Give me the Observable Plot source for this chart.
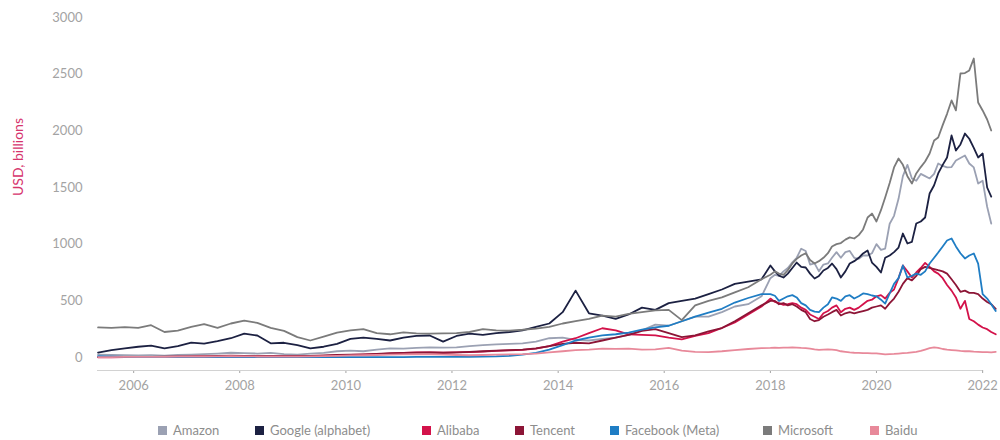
<!DOCTYPE html>
<html><head><meta charset="utf-8">
<script src="https://cdn.jsdelivr.net/npm/d3@7"></script>
<script src="https://cdn.jsdelivr.net/npm/@observablehq/plot@0.6"></script>
<style>
body{margin:0;background:#fff;font-family:Lato,"Open Sans",sans-serif;}
#wrap{position:relative;width:1000px;height:440px;overflow:hidden;background:#fff;}
#ylab{position:absolute;left:17px;top:157px;transform:translate(-50%,-50%) rotate(-90deg);color:#d6336c;font-size:14px;white-space:nowrap;}
.item{position:absolute;top:422px;height:16px;font-size:13px;color:#8d8d8d;display:flex;align-items:center;white-space:nowrap;}
.sw{width:9px;height:9px;margin-right:6px;flex:none;}
</style></head><body>
<div id="wrap"><div id="chart"></div><div id="ylab">USD, billions</div><div id="legend"></div></div>
<script>
// ---- data ----
const dates = [
"2005-05","2005-08","2005-11","2006-02","2006-05","2006-08","2006-11","2007-02","2007-05","2007-08","2007-11",
"2008-02","2008-05","2008-08","2008-11","2009-02","2009-05","2009-08","2009-11","2010-02","2010-05","2010-08","2010-11",
"2011-02","2011-05","2011-08","2011-11","2012-02","2012-05","2012-08","2012-11","2013-02","2013-05","2013-08","2013-11",
"2014-02","2014-05","2014-08","2014-11","2015-02","2015-05","2015-08","2015-11","2016-02","2016-05","2016-08","2016-11",
"2017-02","2017-05","2017-08","2017-11",
"2018-01","2018-02","2018-03","2018-04","2018-05","2018-06","2018-07","2018-08","2018-09","2018-10","2018-11","2018-12",
"2019-01","2019-02","2019-03","2019-04","2019-05","2019-06","2019-07","2019-08","2019-09","2019-10","2019-11","2019-12",
"2020-01","2020-02","2020-03","2020-04","2020-05","2020-06","2020-07","2020-08","2020-09","2020-10","2020-11","2020-12",
"2021-01","2021-02","2021-03","2021-04","2021-05","2021-06","2021-07","2021-08","2021-09","2021-10","2021-11","2021-12",
"2022-01","2022-02","2022-03","2022-04"];

const amazon = [25,22,20,18,20,17,22,25,30,35,42,38,35,40,30,25,35,40,55,60,55,70,80,78,85,90,88,90,100,110,115,120,125,140,170,176,155,150,165,175,200,240,290,280,320,360,360,400,450,470,540,
700,730,720,760,790,840,880,960,940,820,830,760,820,830,880,930,880,930,940,880,870,900,900,920,1000,950,960,1180,1250,1400,1600,1700,1580,1560,1620,1600,1580,1620,1712,1690,1677,1680,1738,1760,1782,1712,1677,1535,1560,1330,1182,null];

const google = [44,65,80,95,105,80,100,132,123,145,170,210,194,125,130,110,80,95,120,165,175,165,150,176,190,194,140,190,210,200,215,225,240,270,300,400,590,390,370,340,380,440,420,480,500,520,560,600,650,670,690,
812,760,723,706,740,790,838,800,794,740,697,720,768,790,829,780,706,760,829,850,880,918,944,838,800,750,880,900,930,970,1094,1006,1020,1182,1200,1235,1447,1520,1624,1700,1765,1959,1826,1880,1976,1930,1850,1765,1800,1500,1420,null];

const alibaba = [2,2,3,4,5,6,7,8,9,10,12,11,10,10,9,10,12,15,18,22,25,30,35,40,45,45,42,45,48,52,58,62,68,78,100,140,170,215,258,240,205,200,195,175,160,190,215,260,310,380,450,
520,490,480,465,470,480,470,440,420,380,360,340,390,410,440,460,400,430,440,420,440,470,500,510,540,550,520,570,600,700,812,760,706,750,790,835,800,760,740,700,640,590,530,430,500,340,320,290,265,250,225,205];

const tencent = [3,3,4,5,6,7,8,10,12,14,16,15,14,13,12,12,14,18,22,25,28,32,38,40,42,45,42,45,50,55,60,65,70,80,100,120,130,125,150,175,200,235,250,215,180,195,230,260,320,390,460,
500,500,470,480,460,470,450,420,400,340,320,330,360,380,400,420,370,390,400,390,400,410,420,440,450,460,430,480,520,580,650,700,680,720,780,800,790,780,770,760,740,690,640,580,590,570,570,560,520,490,470,430];

const facebook = [12,8,5,4,4,4,4,4,4,4,4,4,4,4,4,4,4,4,4,4,4,4,4,4,5,5,5,5,6,8,10,15,25,40,70,110,150,175,195,205,220,245,265,280,320,360,395,430,485,525,560,
560,545,500,520,540,550,530,480,460,420,405,400,440,470,530,520,500,540,550,520,540,565,560,547,540,510,476,565,650,700,812,706,720,741,730,760,829,880,926,980,1032,1050,980,920,874,900,918,829,560,520,470,410];

const microsoft = [265,262,268,262,285,225,238,270,295,262,300,325,305,262,235,180,150,185,220,240,250,215,205,222,212,210,212,215,225,250,240,238,245,255,270,300,320,340,370,360,385,400,415,420,330,460,500,530,575,620,690,
730,760,740,730,770,830,870,900,920,860,830,850,880,920,980,1000,1010,1040,1060,1050,1080,1130,1235,1270,1200,1300,1412,1540,1677,1756,1700,1600,1535,1624,1680,1730,1800,1915,1941,2050,2150,2268,2180,2506,2510,2533,2638,2250,2180,2100,2003,null];

const baidu = [4,4,5,5,6,6,7,8,9,10,12,10,9,8,7,8,10,12,15,18,20,22,25,28,30,28,25,22,20,22,25,28,30,35,45,55,65,70,78,76,78,70,72,85,60,50,48,55,65,75,82,
85,88,85,87,88,90,88,85,83,78,72,68,70,72,70,65,55,50,45,42,40,38,38,36,37,32,28,30,32,35,38,40,45,50,58,70,82,90,85,75,70,66,62,58,55,55,52,50,48,47,45,50];

const names = ["Amazon","Google (alphabet)","Alibaba","Tencent","Facebook (Meta)","Microsoft","Baidu"];
const seriesValues = [amazon, google, alibaba, tencent, facebook, microsoft, baidu];
const colors = ["#9ba1b3","#1c2142","#d3124a","#8c1536","#1f7dc4","#7b7b7b","#e8899a"];
const yTicks = [0,500,1000,1500,2000,2500,3000];
const xTickDates = ["2006-01-01","2008-01-01","2010-01-01","2012-01-01","2014-01-01","2016-01-01","2018-01-01","2020-01-01","2022-01-01"];

// ---- build ----
const rows = names.flatMap((name, k) => seriesValues[k].map((v, i) => ({date: new Date(dates[i]), value: v, name})));
const xStart = new Date("2005-04-27"), xEnd = new Date("2022-04-27"), axisEnd = new Date("2022-01-01");
const yFloor = -114.7;

const chart = Plot.plot({
  width: 1000, height: 400,
  marginLeft: 97, marginRight: 1, marginTop: 17, marginBottom: 30,
  style: {fontFamily: "Lato, sans-serif", fontSize: "13px", color: "#a3a3a3", background: "transparent"},
  x: {type: "utc", domain: [xStart, xEnd], ticks: xTickDates.map(d => new Date(d)), tickFormat: d3.utcFormat("%Y"), tickSize: 3, tickPadding: 7, label: null},
  y: {domain: [yFloor, 3000], ticks: yTicks, tickFormat: d => String(d), tickSize: 0, tickPadding: 15, label: null},
  color: {domain: names, range: colors},
  marks: [
    Plot.ruleY([{y: yFloor, x1: xStart, x2: axisEnd}], {y: "y", x1: "x1", x2: "x2", stroke: "#d2d2d2", strokeWidth: 1.2}),
    Plot.line(rows, {x: "date", y: "value", z: "name", stroke: "name", strokeWidth: 1.8, strokeLinejoin: "round"})
  ]
});
document.getElementById("chart").appendChild(chart);

// legend
const legendX = [158, 255, 422, 515, 610, 763, 870];
const leg = document.getElementById("legend");
names.forEach((n, k) => {
  const it = document.createElement("div");
  it.className = "item";
  it.style.left = legendX[k] + "px";
  const sw = document.createElement("span");
  sw.className = "sw";
  sw.style.background = colors[k];
  const tx = document.createElement("span");
  tx.textContent = n;
  it.appendChild(sw); it.appendChild(tx);
  leg.appendChild(it);
});
</script>
</body></html>
